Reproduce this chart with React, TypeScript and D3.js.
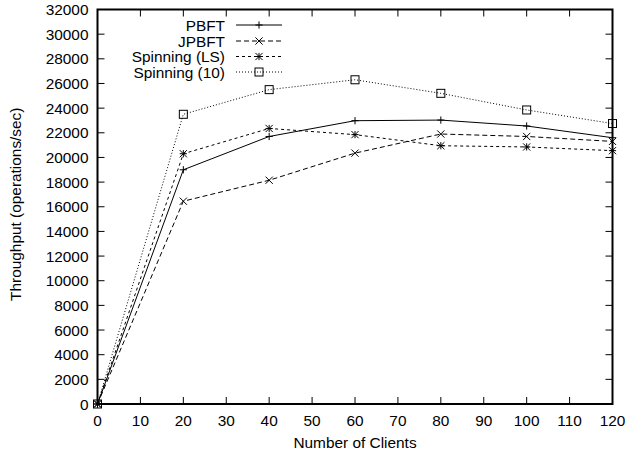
import React from "react";
import * as d3 from "d3";

// number of clients
const clients = [0, 20, 40, 60, 80, 100, 120];

// throughput (operations/sec) per protocol
const pbft = [0, 19000, 21700, 22980, 23030, 22550, 21600];
const jpbft = [0, 16450, 18150, 20350, 21900, 21700, 21300];
const spinningLS = [0, 20300, 22350, 21850, 20950, 20850, 20550];
const spinning10 = [0, 23500, 25500, 26300, 25200, 23850, 22750];

const xTicks = d3.range(0, 121, 10);
const yTicks = d3.range(0, 32001, 2000);

const series = [
  { name: "PBFT", values: pbft, dash: "none", marker: "plus" },
  { name: "JPBFT", values: jpbft, dash: "5,3", marker: "cross" },
  { name: "Spinning (LS)", values: spinningLS, dash: "3,3", marker: "star" },
  { name: "Spinning (10)", values: spinning10, dash: "1,2", marker: "square" },
];

const W = 628;
const H = 456;
const left = 97.5;
const right = 612.5;
const top = 9.5;
const bottom = 404;
const font = "'Liberation Sans', Arial, Helvetica, sans-serif";
const fs = 15.4;

const Marker = ({ type, x, y }: { type: string; x: number; y: number }) => {
  const s = 3.6;
  if (type === "plus")
    return (
      <path d={`M${x - s},${y}H${x + s}M${x},${y - s}V${y + s}`} stroke="#000" strokeWidth={1} />
    );
  if (type === "cross")
    return (
      <path
        d={`M${x - s},${y - s}L${x + s},${y + s}M${x - s},${y + s}L${x + s},${y - s}`}
        stroke="#000"
        strokeWidth={1}
      />
    );
  if (type === "star")
    return (
      <path
        d={`M${x - s},${y}H${x + s}M${x},${y - s}V${y + s}M${x - s},${y - s}L${x + s},${y + s}M${x - s},${y + s}L${x + s},${y - s}`}
        stroke="#000"
        strokeWidth={1}
      />
    );
  return <rect x={x - 4} y={y - 4} width={8} height={8} fill="none" stroke="#000" strokeWidth={1} />;
};

export default function App() {
  const x = d3.scaleLinear().domain([0, 120]).range([left, right]);
  const y = d3.scaleLinear().domain([0, 32000]).range([bottom, top]);
  const line = d3
    .line<number>()
    .x((_, i) => x(clients[i]))
    .y((d) => y(d));

  const legendX = 225;
  const legendRows = [25, 41, 56.5, 72];

  return (
    <div style={{ position: "absolute", left: 0, top: 0 }}>
      <svg width={W} height={H} style={{ display: "block", background: "#fff" }} fontFamily={font} fontSize={fs}>
        {/* ticks, mirrored on all sides */}
        {yTicks.map((t) => (
          <g key={"y" + t}>
            <line x1={left} x2={left + 7} y1={y(t)} y2={y(t)} stroke="#000" />
            <line x1={right - 7} x2={right} y1={y(t)} y2={y(t)} stroke="#000" />
            <text x={88.5} y={y(t)} dy="0.36em" textAnchor="end">
              {t}
            </text>
          </g>
        ))}
        {xTicks.map((t) => (
          <g key={"x" + t}>
            <line x1={x(t)} x2={x(t)} y1={bottom} y2={bottom - 7} stroke="#000" />
            <line x1={x(t)} x2={x(t)} y1={top} y2={top + 7} stroke="#000" />
            <text x={x(t)} y={425.5} textAnchor="middle">
              {t}
            </text>
          </g>
        ))}

        {/* data */}
        {series.map((s) => (
          <g key={s.name}>
            <path d={line(s.values) || ""} fill="none" stroke="#000" strokeWidth={1} strokeDasharray={s.dash} />
            {s.values.map((v, i) => (
              <Marker key={i} type={s.marker} x={x(clients[i])} y={y(v)} />
            ))}
          </g>
        ))}

        {/* legend */}
        {series.map((s, i) => (
          <g key={"l" + s.name}>
            <text x={legendX} y={legendRows[i]} dy="0.36em" textAnchor="end">
              {s.name}
            </text>
            <line
              x1={236}
              x2={282}
              y1={legendRows[i]}
              y2={legendRows[i]}
              stroke="#000"
              strokeWidth={1}
              strokeDasharray={s.dash}
            />
            <Marker type={s.marker} x={259} y={legendRows[i]} />
          </g>
        ))}

        {/* border */}
        <rect x={left} y={top} width={right - left} height={bottom - top} fill="none" stroke="#000" strokeWidth={2} />

        {/* titles */}
        <text x={x(60)} y={447.5} textAnchor="middle">
          Number of Clients
        </text>
        <text transform={`translate(21,${(top + bottom) / 2 - 2.5}) rotate(-90)`} textAnchor="middle">
          Throughput (operations/sec)
        </text>
      </svg>
    </div>
  );
}
